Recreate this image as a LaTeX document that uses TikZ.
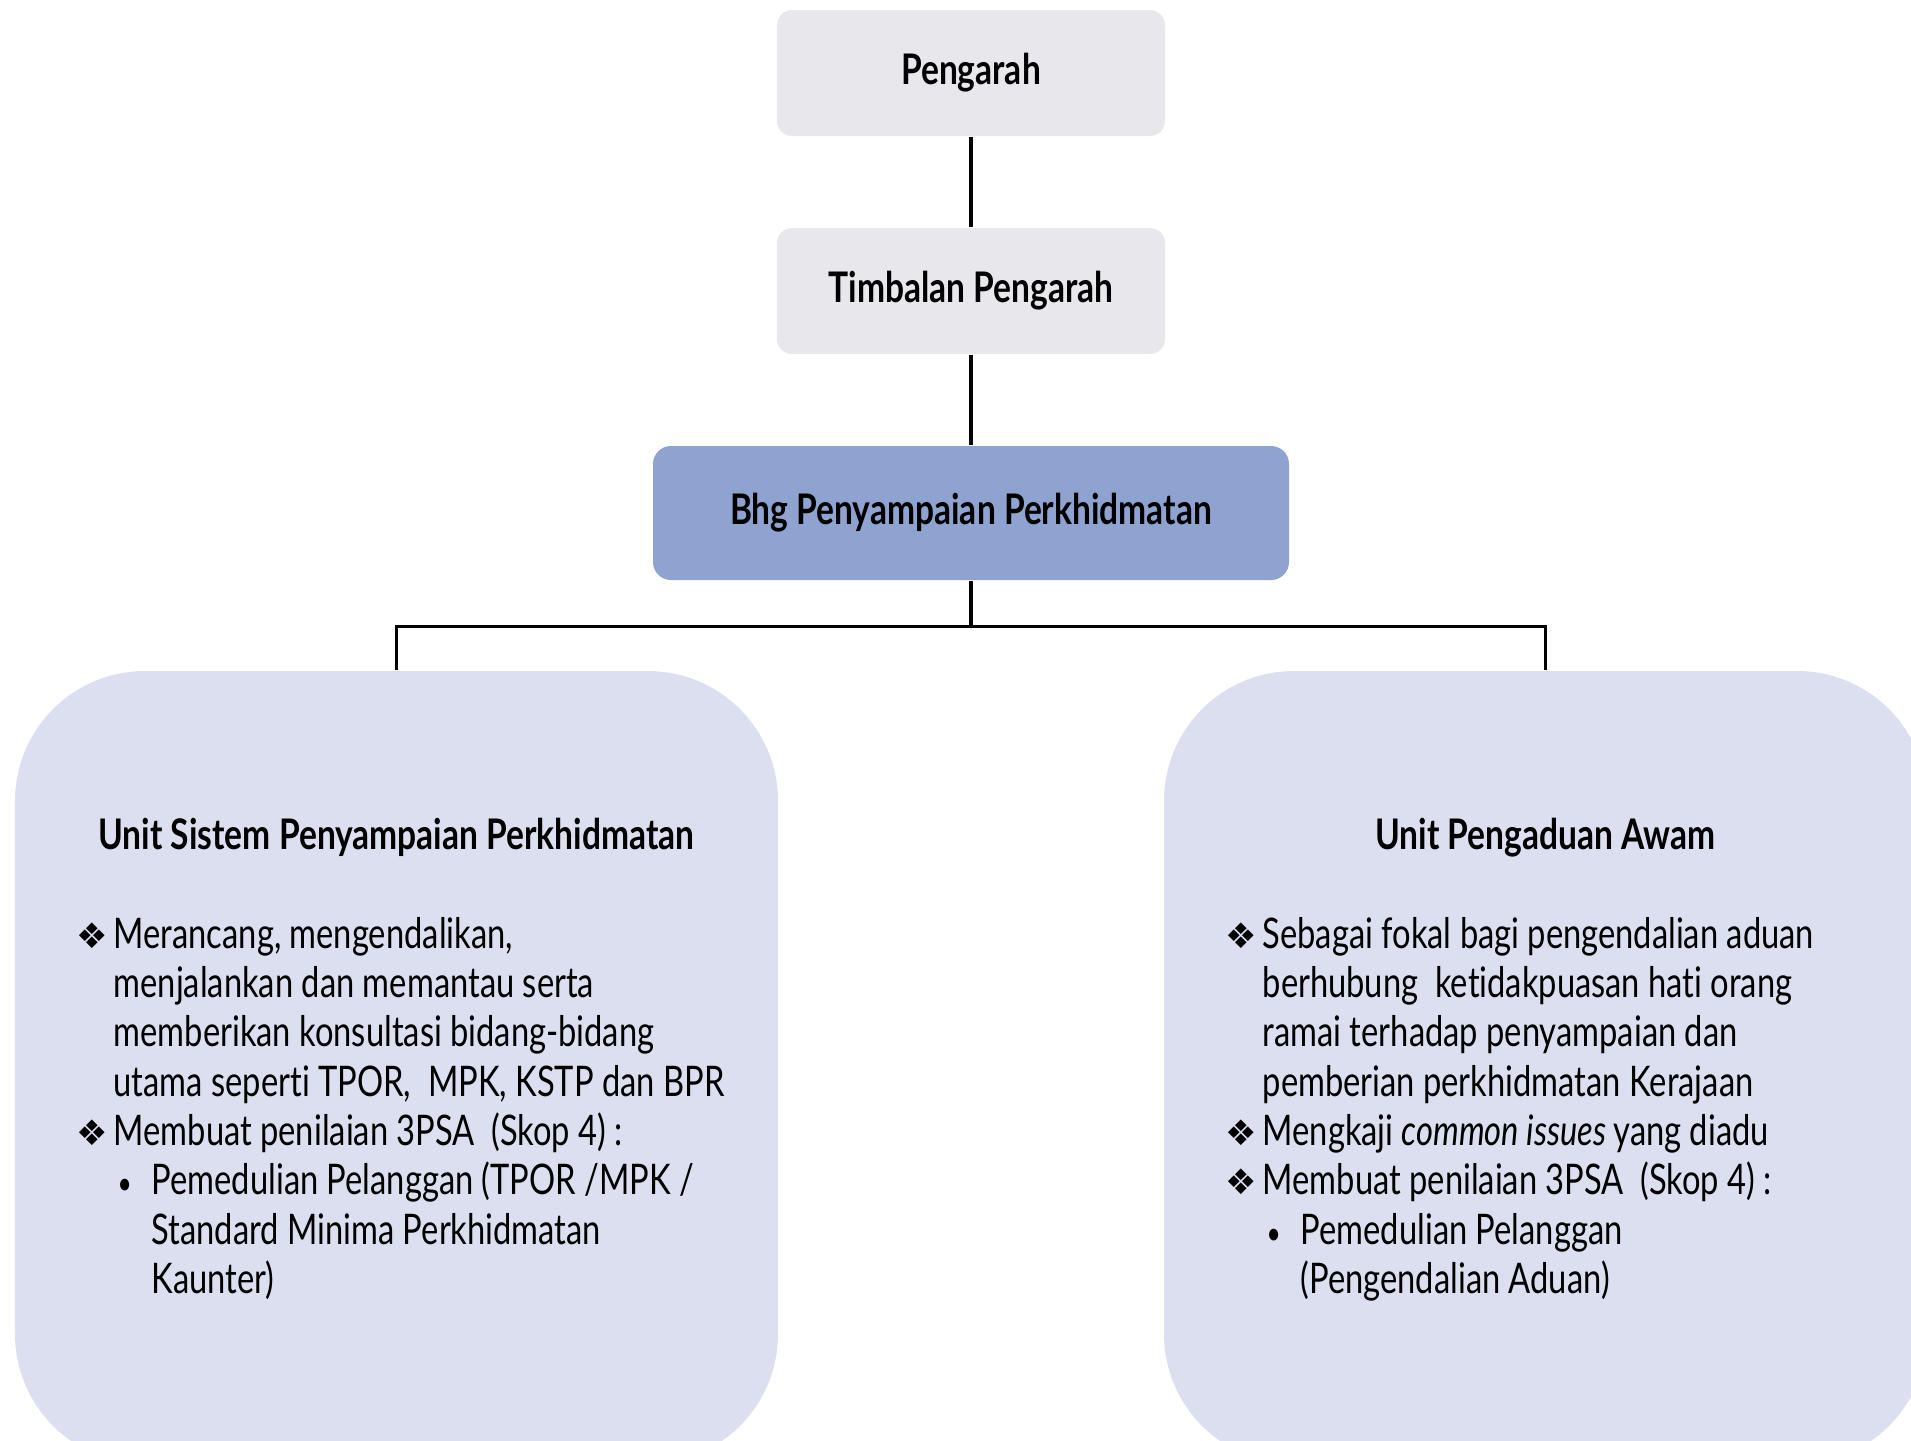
\documentclass[tikz,border=0pt]{standalone}
\usepackage{fontspec}
\setmainfont{Lato}[FakeStretch=0.775, BoldFeatures={FakeStretch=0.795}, Ligatures=NoCommon]
\newfontfamily\symfont{DejaVu Sans}
\usetikzlibrary{positioning, calc}
\definecolor{headgrey}{RGB}{232, 231, 236}
\definecolor{secblue}{RGB}{143, 163, 208}
\definecolor{unitlav}{RGB}{219, 223, 240}
\newcommand{\dia}{\makebox[0.37cm][l]{\symfont\fontsize{10}{10}\selectfont ❖}}
\newcommand{\subbul}{\hspace{0.04cm}\makebox[0.34cm][l]{\fontsize{9}{9}\selectfont •}}
\newcommand{\hang}{\hspace{0.37cm}}
\newcommand{\subhang}{\hspace{0.75cm}}

\begin{document}
\begin{tikzpicture}[
  font=\fontsize{12}{14.05}\selectfont,
  topbox/.style={fill=headgrey, rounded corners=0.15cm, minimum width=3.88cm, minimum height=1.26cm, font=\fontsize{12}{14}\selectfont\bfseries},
  secbox/.style={fill=secblue, rounded corners=0.18cm, minimum width=6.36cm, minimum height=1.34cm, font=\fontsize{12}{14}\selectfont\bfseries},
  unitbox/.style={fill=unitlav, rounded corners=1.3cm, minimum width=7.63cm, minimum height=7.93cm},
  unithead/.style={anchor=base, font=\fontsize{12}{14}\selectfont\bfseries},
  unitbody/.style={anchor=base west, inner sep=0pt},
  link/.style={line width=1pt}
]
  \useasboundingbox (0,0) rectangle (19.11,-14.40);
  \clip (0,0) rectangle (19.11,-14.40);

  % Top of the chart
  \node[topbox] (peng) at (9.71, -0.73) {Pengarah};
  \node[topbox] (timb) at (9.71, -2.91) {Timbalan Pengarah};
  \node[secbox] (bhg) at (9.71, -5.13) {Bhg Penyampaian Perkhidmatan};

  % Units (both run past the page edge)
  \node[unitbox] (unitA) at (3.965, -10.675) {};
  \node[unitbox] (unitB) at (15.455, -10.675) {};

  \coordinate (split) at ($(bhg.south)+(0,-0.46)$);
  \draw[link] (peng) -- (timb);
  \draw[link] (timb) -- (bhg);
  \draw[link] (bhg) -- (split);
  \draw[link] (unitA.north) |- (split) -| (unitB.north);

  % Unit Sistem Penyampaian Perkhidmatan
  \node[unithead] (headA) at (3.965, -8.49) {Unit Sistem Penyampaian Perkhidmatan};
  \node[unitbody] (bodyA) at (0.76, -9.48) {%
    \begin{tabular}[t]{@{}l@{}}
      \dia Merancang, mengendalikan,\\
      \hang menjalankan dan memantau serta\\
      \hang memberikan konsultasi bidang-bidang\\
      \hang utama seperti TPOR, \ MPK, KSTP dan BPR\\
      \dia Membuat penilaian 3PSA \ (Skop 4) :\\
      \hang\subbul Pemedulian Pelanggan (TPOR /MPK /\\
      \subhang Standard Minima Perkhidmatan\\
      \subhang Kaunter)
    \end{tabular}};

  % Unit Pengaduan Awam
  \node[unithead] (headB) at (15.455, -8.49) {Unit Pengaduan Awam};
  \node[unitbody] (bodyB) at (12.25, -9.48) {%
    \begin{tabular}[t]{@{}l@{}}
      \dia Sebagai fokal bagi pengendalian aduan\\
      \hang berhubung \ ketidakpuasan hati orang\\
      \hang ramai terhadap penyampaian dan\\
      \hang pemberian perkhidmatan Kerajaan\\
      \dia Mengkaji \textit{common issues}\,yang diadu\\
      \dia Membuat penilaian 3PSA \ (Skop 4) :\\
      \hang\subbul Pemedulian Pelanggan\\
      \subhang (Pengendalian Aduan)
    \end{tabular}};
\end{tikzpicture}
\end{document}
